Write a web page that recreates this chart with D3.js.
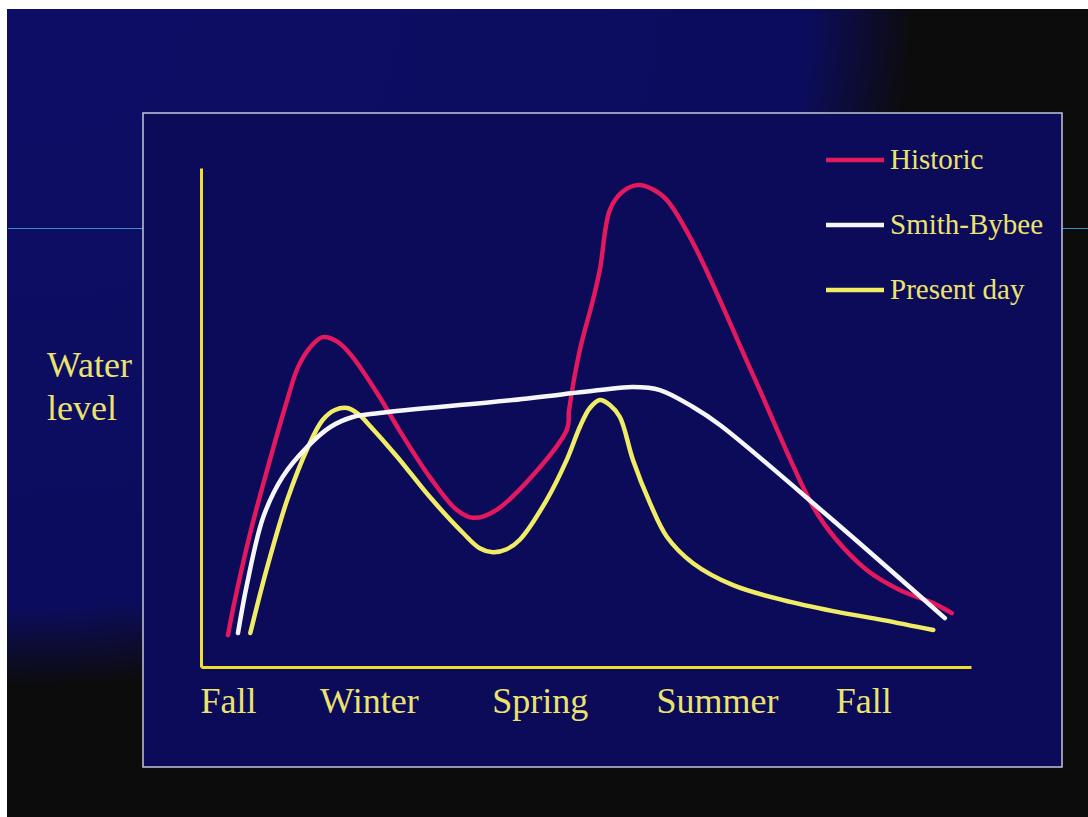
<!DOCTYPE html>
<html>
<head>
<meta charset="utf-8">
<script src="https://cdn.jsdelivr.net/npm/d3@7"></script>
<style>
  body { margin: 0; background: #fff; }
  text { font-family: "Liberation Serif", "Times New Roman", serif; }
</style>
</head>
<body>
<div id="chart"></div>
<script>
// Canvas
const width = 1088,
      height = 817

// Data (time in % of the year from fall to fall, level in arbitrary units 0-100)
const seasons = ['Fall', 'Winter', 'Spring', 'Summer', 'Fall']
const seasonPos = [3.5, 21.8, 44, 67, 86]

const historicX = [3.5, 4.4, 6.4, 8.7, 11.2, 12.6, 14.2, 15.8, 17.8, 19.7, 23.2, 25.5, 29.7, 33.2, 35.3, 38.4, 47.5, 47.8, 49.2, 50.9, 51.8, 53.1, 54.7, 56.8, 58.6, 60.5, 63.9, 71.7, 79.5, 82.3, 86.5, 90.8, 95.1, 97.5]
const historicY = [6.4, 13.4, 26.9, 40.1, 53.5, 60.1, 64.1, 66.1, 65.1, 62.1, 54.1, 48.1, 38.1, 31.5, 29.9, 31.5, 47.5, 51.5, 63.5, 73.5, 79.6, 91.6, 95.2, 96.6, 95.8, 93.6, 85.0, 58.5, 32.1, 25.9, 19.4, 15.4, 12.8, 10.8]

const smithX = [4.8, 6.0, 8.1, 10.6, 13.8, 16.8, 19.7, 23.2, 40.5, 51.8, 56.1, 59.6, 63.9, 67.4, 81.7, 96.6]
const smithY = [6.8, 16.8, 30.1, 38.1, 44.1, 48.1, 50.1, 50.9, 53.5, 55.5, 56.1, 55.5, 52.1, 48.5, 29.9, 9.8]

const presentX = [6.4, 8.6, 11.2, 13.9, 15.8, 17.4, 19.0, 20.6, 21.6, 25.5, 29.7, 34.0, 36.2, 37.9, 39.7, 41.4, 44.9, 47.5, 49.2, 50.5, 51.8, 53.1, 54.4, 56.1, 58.3, 60.5, 63.9, 69.1, 75.6, 82.1, 88.6, 95.1]
const presentY = [6.8, 20.0, 33.5, 44.1, 49.5, 51.5, 51.9, 50.5, 48.9, 42.1, 34.1, 26.9, 23.8, 23.0, 23.6, 25.5, 33.5, 41.5, 48.1, 51.9, 53.5, 52.5, 50.1, 41.5, 32.9, 26.1, 20.8, 16.4, 13.4, 11.2, 9.4, 7.4]

const seriesNames = ['Historic', 'Smith-Bybee', 'Present day']
const seriesColors = ['#e2195e', '#f6f6f6', '#f1ec66']

const series = [
  { name: seriesNames[0], color: seriesColors[0], xs: historicX, ys: historicY },
  { name: seriesNames[2], color: seriesColors[2], xs: presentX, ys: presentY },
  { name: seriesNames[1], color: seriesColors[1], xs: smithX, ys: smithY }
]

const textColor = '#ebe36e',
      axisColor = '#f0e02c'

let svg = d3.select('#chart')
  .append('svg')
  .attr('width', width)
  .attr('height', height)

// Slide background: navy fading to black towards the right and bottom
let defs = svg.append('defs')
let grad = defs.append('radialGradient')
  .attr('id', 'slideBg')
  .attr('cx', 0).attr('cy', 0).attr('r', 1)
  .attr('fx', 0).attr('fy', 0)
grad.append('stop').attr('offset', 0).attr('stop-color', '#0d0d66')
grad.append('stop').attr('offset', 0.74).attr('stop-color', '#0c0c5e')
grad.append('stop').attr('offset', 0.84).attr('stop-color', '#0c0c0c')
grad.append('stop').attr('offset', 1).attr('stop-color', '#0c0c0c')

svg.append('rect')
  .attr('x', 7).attr('y', 9)
  .attr('width', width - 7).attr('height', height - 9)
  .attr('fill', 'url(#slideBg)')

// thin cyan rule behind the box
svg.append('line')
  .attr('x1', 8).attr('x2', width)
  .attr('y1', 228.5).attr('y2', 228.5)
  .attr('stroke', '#3d8fc6')
  .attr('stroke-width', 1.2)

// chart box
svg.append('rect')
  .attr('x', 143).attr('y', 113)
  .attr('width', 919).attr('height', 654)
  .attr('fill', '#0b0b5a')
  .attr('stroke', '#c4c6d8')
  .attr('stroke-width', 1.5)

// Scales
let xScale = d3.scaleLinear()
  .domain([0, 100])
  .range([201, 971])

let yScale = d3.scaleLinear()
  .domain([0, 100])
  .range([667, 168])

// Axes
let xAxis = d3.axisBottom(xScale)
  .tickValues(seasonPos)
  .tickFormat((d, i) => seasons[i])
  .tickSize(0)
  .tickPadding(20)

let yAxis = d3.axisLeft(yScale)
  .tickValues([])
  .tickSize(0)

let gx = svg.append('g')
  .attr('transform', `translate(0,${yScale(0)})`)
  .call(xAxis)
gx.select('.domain').attr('stroke', axisColor).attr('stroke-width', 3)
gx.selectAll('text')
  .attr('fill', textColor)
  .style('font-size', '36px')
  .style('font-family', '"Liberation Serif", serif')

let gy = svg.append('g')
  .attr('transform', `translate(${xScale(0)},0)`)
  .call(yAxis)
gy.select('.domain').attr('stroke', axisColor).attr('stroke-width', 3)

// y label
svg.append('text')
  .attr('x', 47).attr('y', 377)
  .attr('fill', textColor)
  .style('font-size', '36px')
  .text('Water')
svg.append('text')
  .attr('x', 47).attr('y', 420)
  .attr('fill', textColor)
  .style('font-size', '36px')
  .text('level')

// Lines
let line = d3.line()
  .x(d => xScale(d[0]))
  .y(d => yScale(d[1]))
  .curve(d3.curveCatmullRom.alpha(0.5))

svg.selectAll('path.series')
  .data(series)
  .enter()
  .append('path')
  .attr('class', 'series')
  .attr('d', s => line(s.xs.map((x, i) => [x, s.ys[i]])))
  .attr('fill', 'none')
  .attr('stroke', s => s.color)
  .attr('stroke-width', 4.5)
  .attr('stroke-linecap', 'round')
  .attr('stroke-linejoin', 'round')

// Legend
let legend = svg.selectAll('g.legend')
  .data(seriesNames)
  .enter()
  .append('g')
  .attr('class', 'legend')
  .attr('transform', (d, i) => `translate(0,${160 + i * 65})`)

legend.append('line')
  .attr('x1', 826).attr('x2', 884)
  .attr('y1', 0).attr('y2', 0)
  .attr('stroke', (d, i) => seriesColors[i])
  .attr('stroke-width', 4.5)

legend.append('text')
  .attr('x', 890).attr('y', 9)
  .attr('fill', textColor)
  .style('font-size', '29px')
  .text(d => d)
</script>
</body>
</html>
